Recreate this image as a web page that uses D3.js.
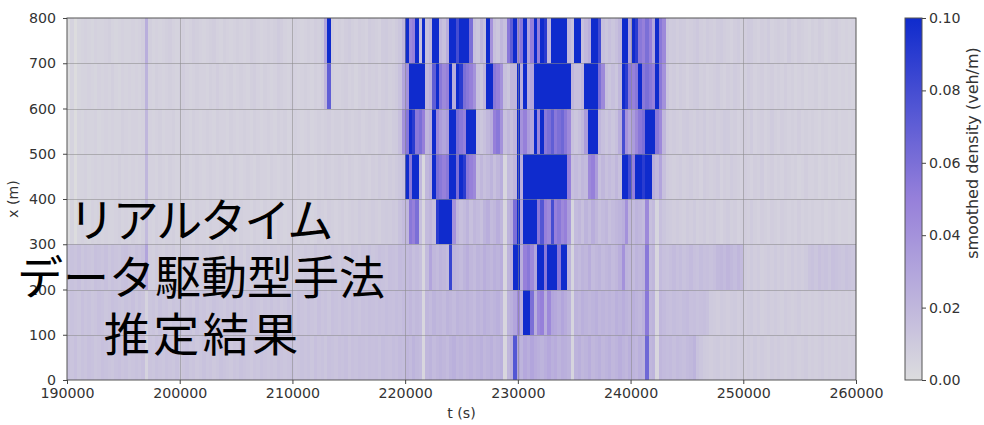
<!DOCTYPE html>
<html>
<head>
<meta charset="utf-8">
<script src="https://cdn.jsdelivr.net/npm/d3@7"></script>
<style>
  html, body { margin: 0; padding: 0; background: #fff; }
  svg { display: block; font-family: "DejaVu Sans", sans-serif; }
</style>
</head>
<body>
<svg id="chart" width="984" height="425"></svg>
<script>
// ---- time axis and spatial bands ----
const timeStart = 190000;
const timeEnd = 260000;
const binSeconds = 300;
const xTickValues = [190000, 200000, 210000, 220000, 230000, 240000, 250000, 260000];
const yTickValues = [0, 100, 200, 300, 400, 500, 600, 700, 800];
const densityTicks = [0.00, 0.02, 0.04, 0.06, 0.08, 0.10];
const overlayLines = ["リアルタイム", "データ駆動型手法", "推定結果"];

// smoothed density per 300 s bin, in veh/km (one array per 100 m band)
const band700 = [
  0,5,0,4,5,6,5,4,6,5, 5,6,7,5,4,5,6,5,5,6, 5,6,8,25,7,5,6,5,6,7, 8,6,5,6,7,5,6,8,7,6,
  5,6,7,8,6,5,7,6,5,6, 7,6,5,6,8,7,6,5,6,7, 6,7,9,8,6,5,6,7,6,5, 6,7,6,8,7,9,30,110,8,6,
  7,6,8,9,7,6,8,7,6,9, 8,7,6,9,10,8,7,9,12,20, 110,45,50,110,15,110,15,20,110,110, 20,15,25,110,110,80,110,110,110,60,
  15,12,20,15,110,40,15,12,20,15, 55,70,110,45,55,110,30,50,110,50, 110,90,20,110,110,110,110,110,20,15, 110,110,15,20,25,110,110,80,15,12,
  15,12,15,20,110,110,30,110,90,55, 50,60,50,30,110,55,45,12,9,10, 8,10,9,7,8,9,11,8,7,9, 8,7,9,10,8,7,6,8,9,7,
  8,10,9,7,6,8,7,9,6,7, 8,7,6,9,7,6,8,7,6,5, 7,6,8,7,5,6,7,8,6,5, 6,5,6,5
];
const band600 = [
  0,5,0,4,5,5,6,5,4,6, 5,6,5,7,5,4,6,5,6,5, 6,5,7,22,6,5,7,6,5,6, 7,6,5,7,8,6,5,6,7,6,
  6,5,7,6,8,6,5,6,7,5, 6,7,6,5,7,8,6,5,7,6, 5,6,8,7,6,5,7,6,5,6, 7,6,5,7,6,8,20,70,7,6,
  6,7,8,6,7,5,7,8,6,8, 7,8,6,8,9,7,8,10,14,30, 40,110,110,110,110,110,20,25,70,100, 55,45,50,110,25,110,90,60,55,50,
  40,15,12,20,110,110,55,50,40,15, 12,20,20,110,25,110,25,30,110,110, 110,110,110,110,110,110,110,110,110,20, 15,15,20,110,110,110,110,60,45,15,
  12,15,12,20,110,90,55,50,55,110, 55,60,55,50,110,55,40,12,8,9, 7,9,8,6,8,9,10,7,8,6, 7,8,9,7,6,8,7,9,8,6,
  7,9,8,6,7,8,6,7,8,6, 7,6,8,6,7,5,6,7,5,6, 6,7,5,6,7,5,6,6,5,6, 5,6,5,5
];
const band500 = [
  0,5,0,5,4,6,5,5,6,4, 5,6,5,6,5,5,7,6,5,6, 6,5,6,20,6,5,6,7,5,6, 6,7,5,6,7,6,5,7,6,5,
  6,7,6,5,7,6,6,5,7,6, 5,6,7,6,5,7,6,5,6,7, 6,5,7,6,7,5,6,7,6,5, 6,7,5,6,7,6,7,8,6,7,
  7,6,8,7,6,7,8,6,7,8, 7,6,8,9,8,7,9,10,15,40, 55,110,90,55,60,50,20,25,110,45, 35,30,35,110,110,60,55,50,110,110,
  100,15,12,15,20,25,50,55,40,15, 20,15,20,110,40,50,35,30,110,45, 110,55,60,70,55,60,65,55,45,15, 12,15,20,35,110,110,110,20,15,12,
  15,12,15,25,80,40,30,35,45,55, 60,110,110,110,55,45,20,10,8,9, 8,7,9,10,8,7,9,8,10,7, 8,9,7,8,10,9,7,8,6,7,
  8,7,9,6,7,8,6,7,9,7, 6,8,7,6,7,6,8,6,7,6, 7,6,5,7,6,5,6,7,5,6, 6,5,6,5
];
const band400 = [
  0,5,0,5,5,6,4,5,6,5, 6,5,5,6,5,7,5,6,5,6, 5,6,6,20,6,6,5,7,6,5, 7,6,5,6,6,7,5,6,7,6,
  5,6,7,6,5,6,7,6,5,7, 6,5,6,7,6,5,7,6,6,5, 7,6,5,6,7,6,5,6,7,6, 6,7,6,5,7,6,8,7,6,7,
  8,7,6,8,7,6,7,8,7,6, 8,7,9,8,7,9,8,10,12,15, 110,55,110,100,20,2,20,25,110,60, 55,50,55,110,110,60,110,90,55,50,
  45,15,20,15,18,22,15,20,25,3, 18,15,20,110,25,110,110,110,110,110, 110,110,110,110,110,110,110,110,50,15, 18,15,20,18,45,50,35,15,20,15,
  18,15,20,15,110,110,80,50,110,110, 90,110,110,25,20,30,15,9,8,7, 8,9,7,8,9,7,8,6,9,8, 7,8,9,6,8,7,9,8,7,6,
  8,7,6,8,7,9,6,7,8,6, 7,6,8,7,6,7,5,6,8,6, 6,7,5,6,7,5,6,5,7,6, 5,6,5,6
];
const band300 = [
  0,5,0,5,6,5,4,6,5,6, 5,6,5,5,6,7,5,6,5,7, 6,5,7,18,6,5,7,6,5,6, 6,7,5,6,7,6,6,5,7,6,
  6,5,7,6,6,7,5,6,7,6, 5,7,6,6,5,7,6,5,7,6, 6,5,7,6,5,6,7,6,5,7, 6,7,5,6,8,7,6,8,7,6,
  7,8,6,7,8,7,9,8,7,8, 9,8,7,9,10,9,11,10,14,18, 20,55,50,60,15,3,18,20,15,90, 110,110,110,110,40,20,15,18,22,15,
  20,18,15,22,25,18,20,25,20,3, 22,25,60,110,30,110,110,110,100,55, 75,50,45,80,50,55,45,50,35,4, 18,20,15,22,18,25,20,15,18,20,
  15,18,20,22,25,40,20,18,22,20, 18,45,15,18,4,15,12,10,9,8, 9,8,7,9,8,10,7,8,9,7, 8,9,7,6,8,9,7,8,6,7,
  8,7,9,7,6,8,7,6,8,7, 6,8,7,6,7,6,8,6,7,6, 7,6,6,7,5,6,7,6,5,6, 6,5,6,5
];
const band200 = [
  12,14,13,15,12,14,13,12,15,14, 13,15,12,14,13,12,14,15,13,12, 14,13,15,30,8,7,9,8,7,9, 8,9,7,8,10,9,8,7,9,8,
  9,8,10,9,8,7,9,8,10,9, 8,9,7,10,8,9,10,8,9,8, 10,9,8,10,9,11,8,9,10,9, 11,10,9,12,10,9,11,10,12,11,
  10,12,11,10,13,12,11,13,12,14, 12,13,15,14,13,16,15,14,18,17, 18,20,16,18,15,3,18,30,20,18, 22,20,18,85,22,20,18,22,25,20,
  18,22,20,25,22,20,24,22,25,3, 22,25,110,110,25,50,55,45,30,110, 110,55,110,110,110,55,110,100,22,4, 20,18,22,20,25,18,20,22,18,20,
  22,18,20,25,40,22,20,18,22,20, 22,55,18,20,3,18,15,14,16,18, 15,17,14,16,18,15,14,17,15,16, 14,16,19,20,18,21,19,17,20,18,
  9,8,10,8,9,7,8,9,8,10, 8,9,7,8,10,8,9,8,10,13, 14,12,15,13,14,12,15,14,13,12, 14,13,12,14
];
const band100 = [
  12,14,13,12,15,13,14,12,13,15, 14,12,13,15,14,13,12,14,13,15, 12,14,13,5,12,13,11,14,12,13, 11,13,12,14,11,12,13,11,14,12,
  13,11,12,14,13,12,11,13,12,14, 12,13,11,12,14,13,12,11,13,12, 14,12,13,11,12,14,13,12,14,13, 12,14,13,12,15,13,14,12,15,14,
  13,15,14,13,16,14,13,15,14,16, 15,14,16,15,17,16,15,17,16,18, 18,20,17,19,18,3,20,18,22,19, 20,18,22,20,18,22,20,19,22,20,
  18,22,20,24,22,20,22,24,20,3, 22,24,30,45,25,110,110,60,25,45, 50,25,45,30,28,25,30,26,22,4, 22,20,24,22,20,22,24,20,22,20,
  22,20,24,22,25,22,20,24,22,20, 24,55,20,22,3,20,18,16,15,17, 16,15,17,18,15,16,14,15,16,14, 10,9,8,10,9,8,9,10,8,9,
  8,9,10,8,9,7,8,9,8,9, 8,7,9,8,7,8,9,7,8,7, 8,7,8,9,7,8,7,8,7,8, 7,8,7,8
];
const band0 = [
  14,13,15,12,14,13,15,14,12,13, 15,14,13,12,14,15,13,14,12,13, 14,13,15,5,13,12,14,13,12,14, 13,12,14,11,13,14,12,13,11,12,
  14,12,13,11,12,14,13,12,11,13, 12,14,13,12,11,13,12,14,13,12, 13,12,14,13,12,13,14,12,13,14, 13,14,12,15,13,14,12,15,14,13,
  15,14,16,13,15,14,16,15,14,16, 15,16,14,17,16,15,17,16,18,17, 20,18,22,19,18,3,20,22,18,20, 22,20,18,22,24,20,22,19,21,23,
  20,22,24,20,22,24,20,22,24,3, 20,24,75,30,22,28,25,30,26,24, 22,25,28,24,26,22,25,24,22,4, 22,24,20,22,25,20,22,24,20,22,
  24,20,22,25,22,20,24,22,20,24, 22,65,20,22,3,20,18,17,18,16, 18,17,16,18,19,22,14,12,10,9, 8,9,10,8,9,8,10,9,8,9,
  8,9,8,10,8,9,8,7,9,8, 9,8,7,8,9,8,7,8,9,7, 8,7,8,9,7,8,7,8,7,8, 8,7,8,7
];

const bands = [
  { lo: 0,   values: band0 },
  { lo: 100, values: band100 },
  { lo: 200, values: band200 },
  { lo: 300, values: band300 },
  { lo: 400, values: band400 },
  { lo: 500, values: band500 },
  { lo: 600, values: band600 },
  { lo: 700, values: band700 }
];
const bandHeight = 100;

// ---- layout ----
const svg = d3.select("#chart");
const plot = { left: 67, right: 856, top: 18, bottom: 380 };
const bar = { left: 905, width: 17 };
const tickFont = 14.2;

const x = d3.scaleLinear().domain([timeStart, timeEnd]).range([plot.left, plot.right]);
const y = d3.scaleLinear().domain([0, 800]).range([plot.bottom, plot.top]);

// grey -> purple -> blue, densities in veh/m
const color = d3.scaleLinear()
  .domain([0, 0.05, 0.10])
  .range(["#dcdcde", "#9680da", "#0f2bcd"])
  .clamp(true);

// ---- heatmap cells ----
const cells = [];
bands.forEach(b => b.values.forEach((v, i) => {
  cells.push({ t0: timeStart + i * binSeconds, lo: b.lo, rho: v / 1000 });
}));

svg.append("g")
  .attr("shape-rendering", "crispEdges")
  .selectAll("rect")
  .data(cells)
  .join("rect")
  .attr("x", d => x(d.t0))
  .attr("width", d => x(Math.min(d.t0 + binSeconds, timeEnd)) - x(d.t0))
  .attr("y", d => y(d.lo + bandHeight))
  .attr("height", d => y(d.lo) - y(d.lo + bandHeight))
  .attr("fill", d => color(d.rho));

// ---- grid ----
const grid = svg.append("g").attr("stroke", "#8a8a8a").attr("stroke-opacity", 0.55).attr("stroke-width", 1);
grid.selectAll("line.h")
  .data(yTickValues.slice(1, -1))
  .join("line")
  .attr("class", "h")
  .attr("x1", plot.left).attr("x2", plot.right)
  .attr("y1", d => Math.round(y(d)) + 0.5).attr("y2", d => Math.round(y(d)) + 0.5);
grid.selectAll("line.v")
  .data(xTickValues.slice(1, -1))
  .join("line")
  .attr("class", "v")
  .attr("y1", plot.top).attr("y2", plot.bottom)
  .attr("x1", d => Math.round(x(d)) + 0.5).attr("x2", d => Math.round(x(d)) + 0.5);

// ---- frame and axes ----
svg.append("rect")
  .attr("x", plot.left).attr("y", plot.top)
  .attr("width", plot.right - plot.left).attr("height", plot.bottom - plot.top)
  .attr("fill", "none").attr("stroke", "#555").attr("stroke-width", 1);

function styleAxis(g) {
  g.select(".domain").remove();
  g.selectAll(".tick line").attr("stroke", "#444");
  g.selectAll(".tick text").attr("fill", "#333").attr("font-size", tickFont).attr("font-family", "DejaVu Sans, sans-serif");
}

svg.append("g")
  .attr("transform", `translate(0,${plot.bottom})`)
  .call(d3.axisBottom(x).tickValues(xTickValues).tickFormat(d3.format("d")).tickSize(4).tickPadding(4))
  .call(styleAxis);

svg.append("g")
  .attr("transform", `translate(${plot.left},0)`)
  .call(d3.axisLeft(y).tickValues(yTickValues).tickFormat(d3.format("d")).tickSize(4).tickPadding(7))
  .call(styleAxis);

svg.append("text")
  .attr("x", (plot.left + plot.right) / 2).attr("y", 418)
  .attr("text-anchor", "middle").attr("fill", "#333").attr("font-size", tickFont)
  .text("t (s)");

svg.append("text")
  .attr("transform", `translate(18,${(plot.top + plot.bottom) / 2}) rotate(-90)`)
  .attr("text-anchor", "middle").attr("fill", "#333").attr("font-size", tickFont)
  .text("x (m)");

// ---- colour bar ----
const cb = d3.scaleLinear().domain([0, 0.10]).range([plot.bottom, plot.top]);
const grad = svg.append("defs").append("linearGradient")
  .attr("id", "densityGradient").attr("x1", 0).attr("y1", 1).attr("x2", 0).attr("y2", 0);
grad.selectAll("stop")
  .data(d3.range(0, 1.0001, 0.05))
  .join("stop")
  .attr("offset", d => d)
  .attr("stop-color", d => color(d * 0.10));

svg.append("rect")
  .attr("x", bar.left).attr("y", plot.top)
  .attr("width", bar.width).attr("height", plot.bottom - plot.top)
  .attr("fill", "url(#densityGradient)")
  .attr("stroke", "#555").attr("stroke-width", 1);

svg.append("g")
  .attr("transform", `translate(${bar.left + bar.width},0)`)
  .call(d3.axisRight(cb).tickValues(densityTicks).tickFormat(d3.format(".2f")).tickSize(4).tickPadding(3))
  .call(styleAxis);

svg.append("text")
  .attr("transform", `translate(978,153) rotate(-90)`)
  .attr("text-anchor", "middle").attr("fill", "#333").attr("font-size", 16)
  .text("smoothed density (veh/m)");

// ---- title overlay ----
const overlaySpacing = [-2, 0, 3.5];
const overlay = svg.append("g")
  .attr("font-family", "'Noto Sans CJK JP', sans-serif")
  .attr("font-size", 46)
  .attr("fill", "#000")
  .attr("text-anchor", "middle");
overlay.selectAll("text")
  .data(overlayLines)
  .join("text")
  .attr("x", (d, i) => 201 + overlaySpacing[i] / 2)
  .attr("y", (d, i) => 237 + i * 57)
  .attr("letter-spacing", (d, i) => overlaySpacing[i])
  .text(d => d);
</script>
</body>
</html>
